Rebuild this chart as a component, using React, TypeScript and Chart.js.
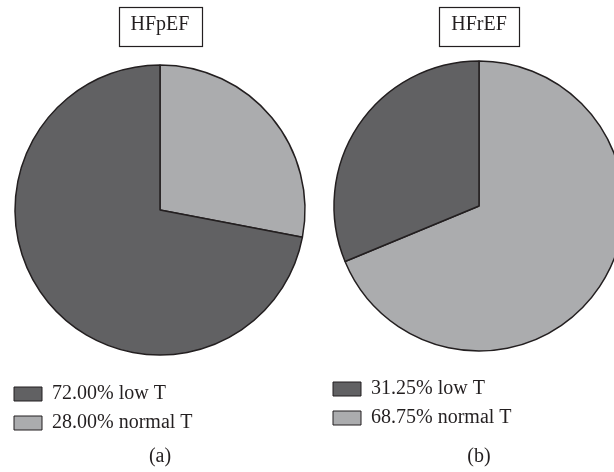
import React, { useEffect, useRef } from "react";
import { Chart, registerables } from "chart.js";

Chart.register(...registerables);

const categories = ["normal T", "low T"];
const hfpefValues = [28.0, 72.0];
const hfrefValues = [68.75, 31.25];
const groupTitles = ["HFpEF", "HFrEF"];
const captions = ["(a)", "(b)"];

const DARK = "#616163";
const LIGHT = "#abacae";
const INK = "#231f20";
const FONT = "'Liberation Serif', 'Times New Roman', serif";

const titleBoxPlugin = {
  id: "titleBox",
  afterDraw(chart: any) {
    const tb = chart.titleBlock;
    if (!tb) return;
    const ctx = chart.ctx;
    const opts = chart.options.plugins.title;
    const text = opts.text as string;
    ctx.save();
    ctx.font = `20px ${FONT}`;
    const w = ctx.measureText(text).width;
    const cx = (tb.left + tb.right) / 2;
    const cy = tb.top + opts.padding.top + 12;
    ctx.strokeStyle = INK;
    ctx.lineWidth = 1.2;
    ctx.strokeRect(Math.round(cx - w / 2 - 12) + 0.5, Math.round(cy - 18) + 0.5, Math.round(w + 24), 39);
    ctx.restore();
  },
};

function makeConfig(values: number[], title: string, caption: string, pad: any) {
  return {
    type: "pie" as const,
    data: {
      labels: categories,
      datasets: [
        {
          data: values,
          backgroundColor: [LIGHT, DARK],
          borderColor: INK,
          borderWidth: 1.5,
        },
      ],
    },
    options: {
      responsive: false,
      animation: false,
      events: [],
      radius: 145,
      layout: { padding: { left: 5, right: 5, top: 0, bottom: 0 } },
      plugins: {
        tooltip: { enabled: false },
        title: {
          display: true,
          text: title,
          color: INK,
          font: { family: FONT, size: 20, weight: "normal" },
          padding: { top: 13, bottom: pad.titleBottom },
        },
        subtitle: {
          display: true,
          position: "bottom",
          text: caption,
          color: INK,
          font: { family: FONT, size: 20, weight: "normal" },
          padding: { top: pad.capTop, bottom: 3 },
        },
        legend: {
          display: true,
          position: "bottom",
          align: "start",
          labels: {
            color: INK,
            font: { family: FONT, size: 20 },
            boxWidth: 28,
            boxHeight: 14,
            padding: 9,
            sort: (a: any, b: any) => b.index - a.index,
            generateLabels: (chart: any) => {
              const ds = chart.data.datasets[0];
              return chart.data.labels.map((lab: string, i: number) => ({
                text: `${Number(ds.data[i]).toFixed(2)}% ${lab}`,
                fillStyle: ds.backgroundColor[i],
                strokeStyle: INK,
                lineWidth: 1,
                fontColor: INK,
                hidden: false,
                index: i,
              }));
            },
          },
        },
      },
    },
    plugins: [titleBoxPlugin],
  };
}

function PieCanvas({ values, title, caption, left, pad }: any) {
  const ref = useRef<HTMLCanvasElement | null>(null);
  useEffect(() => {
    if (!ref.current) return;
    const chart = new Chart(ref.current, makeConfig(values, title, caption, pad) as any);
    return () => chart.destroy();
  }, []);
  return (
    <canvas
      ref={ref}
      width={320}
      height={472}
      style={{ position: "absolute", left, top: 0, width: 320, height: 472 }}
    />
  );
}

export default function App() {
  return (
    <div
      style={{
        position: "absolute",
        left: 0,
        top: 0,
        width: 614,
        height: 472,
        overflow: "hidden",
        background: "#ffffff",
      }}
    >
      <PieCanvas values={hfpefValues} title={groupTitles[0]} caption={captions[0]} left={0} pad={{ titleBottom: 8, capTop: 2 }} />
      <PieCanvas values={hfrefValues} title={groupTitles[1]} caption={captions[1]} left={319} pad={{ titleBottom: 5, capTop: 7 }} />
    </div>
  );
}
